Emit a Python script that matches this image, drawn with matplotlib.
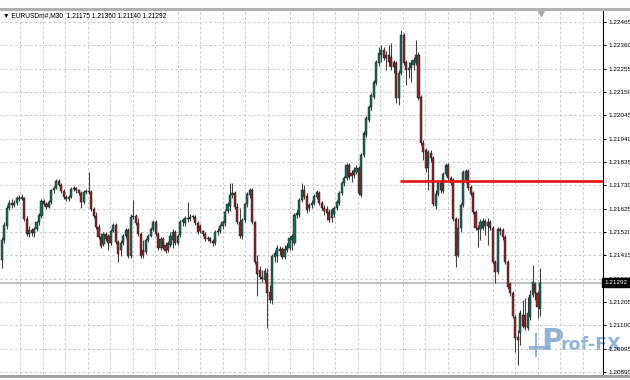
import numpy as np
import matplotlib
matplotlib.use("Agg")
import matplotlib.pyplot as plt
from matplotlib.lines import Line2D

# EURUSDm#, M30 candles (oldest -> newest)
opens = [
    1.21394, 1.21484, 1.21547, 1.21628, 1.21650, 1.21641, 1.21650, 1.21673, 1.21668, 1.21673,
    1.21578, 1.21511, 1.21529, 1.21515, 1.21533, 1.21565, 1.21592, 1.21659, 1.21646, 1.21632,
    1.21655, 1.21709, 1.21718, 1.21749, 1.21731, 1.21704, 1.21677, 1.21668, 1.21677, 1.21713,
    1.21718, 1.21709, 1.21695, 1.21655, 1.21700, 1.21704, 1.21700, 1.21623, 1.21592, 1.21542,
    1.21497, 1.21466, 1.21511, 1.21502, 1.21470, 1.21524, 1.21551, 1.21475, 1.21439, 1.21470,
    1.21502, 1.21529, 1.21412, 1.21587, 1.21592, 1.21560, 1.21511, 1.21439, 1.21430, 1.21484,
    1.21502, 1.21533, 1.21565, 1.21511, 1.21448, 1.21488, 1.21461, 1.21439, 1.21461, 1.21484,
    1.21520, 1.21470, 1.21506, 1.21565, 1.21560, 1.21583, 1.21578, 1.21587, 1.21587, 1.21560,
    1.21547, 1.21524, 1.21511, 1.21488, 1.21493, 1.21479, 1.21470, 1.21520, 1.21524, 1.21547,
    1.21560, 1.21614, 1.21637, 1.21686, 1.21695, 1.21632, 1.21565, 1.21502, 1.21574, 1.21646,
    1.21686, 1.21709, 1.21565, 1.21385, 1.21349, 1.21317, 1.21304, 1.21335, 1.21250, 1.21214,
    1.21407, 1.21412, 1.21443, 1.21443, 1.21407, 1.21439, 1.21448, 1.21484, 1.21470, 1.21596,
    1.21596, 1.21664, 1.21709, 1.21682, 1.21628, 1.21641, 1.21650, 1.21677, 1.21695, 1.21650,
    1.21628, 1.21623, 1.21610, 1.21583, 1.21601, 1.21628, 1.21650, 1.21695, 1.21740, 1.21763,
    1.21821, 1.21785, 1.21776, 1.21790, 1.21808, 1.21686, 1.21866, 1.21956, 1.22024, 1.22082,
    1.22128, 1.22191, 1.22281, 1.22317, 1.22339, 1.22303, 1.22317, 1.22308, 1.22285, 1.22281,
    1.22123, 1.22236, 1.22407, 1.22285, 1.22249, 1.22258, 1.22272, 1.22281, 1.22317, 1.22128,
    1.21920, 1.21889, 1.21808, 1.21875, 1.21853, 1.21637, 1.21691, 1.21740, 1.21704, 1.21781,
    1.21821, 1.21763, 1.21754, 1.21578, 1.21417, 1.21538, 1.21641, 1.21754, 1.21794, 1.21722,
    1.21695, 1.21610, 1.21538, 1.21533, 1.21538, 1.21569, 1.21547, 1.21565, 1.21538, 1.21385,
    1.21340, 1.21533, 1.21529, 1.21497, 1.21385, 1.21286, 1.21245, 1.21137, 1.21047, 1.21065,
    1.21146, 1.21146, 1.21088, 1.21137, 1.21236, 1.21286, 1.21245, 1.21175,
]
highs = [
    1.21497, 1.21565, 1.21641, 1.21664, 1.21668, 1.21664, 1.21682, 1.21686, 1.21691, 1.21677,
    1.21592, 1.21547, 1.21538, 1.21542, 1.21569, 1.21605, 1.21668, 1.21668, 1.21655, 1.21664,
    1.21713, 1.21727, 1.21758, 1.21758, 1.21740, 1.21713, 1.21686, 1.21686, 1.21722, 1.21727,
    1.21722, 1.21713, 1.21704, 1.21709, 1.21713, 1.21790, 1.21709, 1.21632, 1.21610, 1.21556,
    1.21515, 1.21520, 1.21520, 1.21511, 1.21533, 1.21560, 1.21560, 1.21484, 1.21484, 1.21511,
    1.21538, 1.21538, 1.21601, 1.21664, 1.21601, 1.21583, 1.21520, 1.21484, 1.21493, 1.21511,
    1.21542, 1.21574, 1.21574, 1.21520, 1.21497, 1.21497, 1.21475, 1.21479, 1.21520, 1.21533,
    1.21529, 1.21511, 1.21574, 1.21583, 1.21592, 1.21655, 1.21601, 1.21596, 1.21596, 1.21569,
    1.21556, 1.21529, 1.21520, 1.21502, 1.21497, 1.21488, 1.21529, 1.21538, 1.21556, 1.21574,
    1.21619, 1.21655, 1.21740, 1.21740, 1.21704, 1.21650, 1.21628, 1.21583, 1.21650, 1.21700,
    1.21718, 1.21718, 1.21569, 1.21417, 1.21367, 1.21349, 1.21358, 1.21358, 1.21281, 1.21421,
    1.21439, 1.21461, 1.21457, 1.21452, 1.21461, 1.21470, 1.21502, 1.21511, 1.21605, 1.21619,
    1.21673, 1.21740, 1.21731, 1.21695, 1.21650, 1.21664, 1.21691, 1.21709, 1.21704, 1.21659,
    1.21641, 1.21637, 1.21623, 1.21628, 1.21637, 1.21664, 1.21704, 1.21749, 1.21772, 1.21830,
    1.21830, 1.21799, 1.21812, 1.21821, 1.21817, 1.21875, 1.21974, 1.22042, 1.22092, 1.22146,
    1.22204, 1.22294, 1.22352, 1.22362, 1.22352, 1.22334, 1.22362, 1.22371, 1.22294, 1.22290,
    1.22249, 1.22429, 1.22416, 1.22294, 1.22285, 1.22294, 1.22308, 1.22384, 1.22330, 1.22137,
    1.21934, 1.21898, 1.21889, 1.21889, 1.21862, 1.21709, 1.21745, 1.21749, 1.21790, 1.21830,
    1.21830, 1.21772, 1.21763, 1.21587, 1.21583, 1.21650, 1.21799, 1.21803, 1.21803, 1.21731,
    1.21704, 1.21619, 1.21551, 1.21578, 1.21583, 1.21578, 1.21583, 1.21574, 1.21547, 1.21394,
    1.21542, 1.21542, 1.21538, 1.21506, 1.21394, 1.21295, 1.21254, 1.21146, 1.21079, 1.21169,
    1.21214, 1.21223, 1.21227, 1.21259, 1.21371, 1.21295, 1.21254, 1.21360,
]
lows = [
    1.21358, 1.21470, 1.21533, 1.21619, 1.21628, 1.21632, 1.21641, 1.21659, 1.21664, 1.21569,
    1.21502, 1.21497, 1.21502, 1.21497, 1.21524, 1.21551, 1.21583, 1.21637, 1.21623, 1.21628,
    1.21646, 1.21695, 1.21713, 1.21727, 1.21695, 1.21668, 1.21659, 1.21659, 1.21673, 1.21704,
    1.21695, 1.21686, 1.21628, 1.21646, 1.21691, 1.21691, 1.21614, 1.21583, 1.21533, 1.21488,
    1.21448, 1.21457, 1.21479, 1.21439, 1.21461, 1.21520, 1.21466, 1.21385, 1.21412, 1.21461,
    1.21493, 1.21403, 1.21403, 1.21578, 1.21551, 1.21502, 1.21403, 1.21403, 1.21421, 1.21475,
    1.21497, 1.21524, 1.21502, 1.21439, 1.21439, 1.21443, 1.21425, 1.21430, 1.21452, 1.21448,
    1.21461, 1.21461, 1.21497, 1.21547, 1.21547, 1.21565, 1.21569, 1.21578, 1.21551, 1.21511,
    1.21515, 1.21502, 1.21479, 1.21479, 1.21470, 1.21457, 1.21461, 1.21506, 1.21515, 1.21533,
    1.21547, 1.21605, 1.21614, 1.21673, 1.21623, 1.21556, 1.21493, 1.21488, 1.21565, 1.21632,
    1.21673, 1.21556, 1.21376, 1.21232, 1.21308, 1.21295, 1.21290, 1.21088, 1.21200, 1.21196,
    1.21385, 1.21385, 1.21417, 1.21398, 1.21398, 1.21430, 1.21439, 1.21439, 1.21461, 1.21583,
    1.21587, 1.21655, 1.21668, 1.21605, 1.21614, 1.21628, 1.21641, 1.21668, 1.21641, 1.21619,
    1.21596, 1.21574, 1.21565, 1.21565, 1.21587, 1.21619, 1.21641, 1.21686, 1.21727, 1.21754,
    1.21758, 1.21745, 1.21763, 1.21781, 1.21686, 1.21677, 1.21857, 1.21947, 1.22015, 1.22069,
    1.22119, 1.22182, 1.22267, 1.22285, 1.22294, 1.22249, 1.22267, 1.22249, 1.22236, 1.22100,
    1.22092, 1.22227, 1.22272, 1.22182, 1.22213, 1.22195, 1.22249, 1.22272, 1.22114, 1.21912,
    1.21844, 1.21790, 1.21709, 1.21835, 1.21637, 1.21623, 1.21682, 1.21695, 1.21695, 1.21772,
    1.21754, 1.21731, 1.21569, 1.21362, 1.21407, 1.21520, 1.21632, 1.21740, 1.21709, 1.21682,
    1.21601, 1.21529, 1.21452, 1.21484, 1.21529, 1.21506, 1.21461, 1.21529, 1.21376, 1.21290,
    1.21331, 1.21506, 1.21484, 1.21376, 1.21263, 1.21232, 1.21133, 1.20980, 1.20922, 1.21012,
    1.21088, 1.21079, 1.21079, 1.21124, 1.21227, 1.21214, 1.21133, 1.21140,
]
closes = [
    1.21484, 1.21551, 1.21628, 1.21650, 1.21641, 1.21650, 1.21673, 1.21668, 1.21677, 1.21578,
    1.21511, 1.21529, 1.21515, 1.21533, 1.21565, 1.21596, 1.21659, 1.21646, 1.21632, 1.21655,
    1.21709, 1.21718, 1.21749, 1.21731, 1.21704, 1.21677, 1.21668, 1.21677, 1.21713, 1.21718,
    1.21709, 1.21695, 1.21655, 1.21700, 1.21704, 1.21700, 1.21623, 1.21592, 1.21542, 1.21497,
    1.21457, 1.21511, 1.21488, 1.21470, 1.21524, 1.21551, 1.21475, 1.21421, 1.21470, 1.21502,
    1.21529, 1.21412, 1.21587, 1.21592, 1.21560, 1.21511, 1.21412, 1.21417, 1.21484, 1.21502,
    1.21533, 1.21565, 1.21511, 1.21448, 1.21488, 1.21448, 1.21434, 1.21470, 1.21502, 1.21520,
    1.21470, 1.21502, 1.21565, 1.21574, 1.21583, 1.21578, 1.21587, 1.21592, 1.21560, 1.21520,
    1.21524, 1.21511, 1.21488, 1.21493, 1.21479, 1.21470, 1.21520, 1.21524, 1.21547, 1.21565,
    1.21610, 1.21646, 1.21686, 1.21695, 1.21632, 1.21565, 1.21502, 1.21574, 1.21646, 1.21691,
    1.21709, 1.21565, 1.21385, 1.21331, 1.21317, 1.21308, 1.21344, 1.21245, 1.21214, 1.21412,
    1.21425, 1.21448, 1.21434, 1.21407, 1.21443, 1.21457, 1.21493, 1.21502, 1.21596, 1.21605,
    1.21664, 1.21709, 1.21677, 1.21619, 1.21641, 1.21650, 1.21682, 1.21700, 1.21650, 1.21628,
    1.21614, 1.21605, 1.21574, 1.21619, 1.21628, 1.21655, 1.21695, 1.21740, 1.21763, 1.21821,
    1.21767, 1.21772, 1.21799, 1.21808, 1.21695, 1.21866, 1.21965, 1.22033, 1.22082, 1.22137,
    1.22195, 1.22285, 1.22326, 1.22339, 1.22303, 1.22317, 1.22285, 1.22262, 1.22262, 1.22123,
    1.22236, 1.22407, 1.22281, 1.22249, 1.22258, 1.22281, 1.22294, 1.22317, 1.22123, 1.21920,
    1.21880, 1.21808, 1.21880, 1.21853, 1.21646, 1.21691, 1.21740, 1.21709, 1.21781, 1.21821,
    1.21763, 1.21740, 1.21578, 1.21412, 1.21538, 1.21641, 1.21790, 1.21794, 1.21718, 1.21691,
    1.21610, 1.21538, 1.21529, 1.21565, 1.21569, 1.21547, 1.21565, 1.21538, 1.21385, 1.21340,
    1.21533, 1.21524, 1.21497, 1.21385, 1.21272, 1.21245, 1.21142, 1.21043, 1.21034, 1.21155,
    1.21097, 1.21092, 1.21155, 1.21236, 1.21295, 1.21245, 1.21182, 1.21292,
]

price_ticks = [1.22465, 1.22360, 1.22255, 1.22150, 1.22045, 1.21940, 1.21835, 1.21730,
               1.21625, 1.21520, 1.21415, 1.21310, 1.21205, 1.21100, 1.20995, 1.20890]
bid_price = 1.21292
level_price = 1.21748
level_start = 160.6
title = "\u25BC EURUSDm#,M30  1.21175 1.21360 1.21140 1.21292"

up_col = "#1d6e5d"
down_col = "#8e2a2a"
grid_col = "#c9c9c9"
small_font = ["Liberation Sans", "DejaVu Sans"]

o = np.array(opens)
h = np.array(highs)
l = np.array(lows)
c = np.array(closes)
x = np.arange(len(c))

W, H = 630, 380
fig = plt.figure(figsize=(6.3, 3.8), dpi=100, facecolor="white")
ax = fig.add_axes([0, 1 - 374 / H, 603 / W, (374 - 11) / H])
ax.patch.set_visible(False)
ax.set_xlim(-0.73, 242.4)
ax.set_ylim(1.20881, 1.22515)

# grid (dashed, light gray)
for p in price_ticks:
    ax.axhline(p, color=grid_col, lw=0.7, ls=(0, (2.5, 2.5)), zorder=0)
for gx in np.arange(7.34, 242.4, 9.08):
    ax.axvline(gx, color=grid_col, lw=0.7, ls=(0, (2.5, 2.5)), zorder=0)

# bid line
ax.axhline(bid_price, color="#c4c4c4", lw=1.6, zorder=1)

# candles
up = c >= o
ax.vlines(x, l, h, color="#444444", lw=0.8, zorder=2)
ax.bar(x[up], c[up] - o[up], bottom=o[up], width=0.85, color=up_col,
       edgecolor="#111111", linewidth=0.3, zorder=3)
ax.bar(x[~up], c[~up] - o[~up], bottom=o[~up], width=0.85, color=down_col,
       edgecolor="#111111", linewidth=0.3, zorder=3)

# red horizontal level
ax.hlines(level_price, level_start, 242.4, color="#e01212", lw=1.9, zorder=4)

# chart shift marker
ax.plot([217.5], [1.22505], marker="v", ms=4, color="#a8a8a8", clip_on=False, zorder=5)

# right price scale
ax.yaxis.tick_right()
ax.set_yticks(price_ticks)
ax.set_yticklabels([f"{p:.5f}" for p in price_ticks], family=small_font)
ax.tick_params(axis="y", direction="out", length=2.5, width=0.7, labelsize=4.6,
               pad=1.2, colors="#000000")
ax.set_xticks([])
for s in ["left", "top", "bottom"]:
    ax.spines[s].set_visible(False)
ax.spines["right"].set_color("#000000")
ax.spines["right"].set_linewidth(0.8)

ax.text(1.002, bid_price, f"{bid_price:.5f}", transform=ax.get_yaxis_transform(),
        fontsize=4.6, family=small_font, color="white", va="center", ha="left",
        clip_on=False, zorder=6,
        bbox=dict(boxstyle="square,pad=0.35", facecolor="black", edgecolor="black"))

# window frame lines
fig.add_artist(Line2D([0, 1], [1 - 8.5 / H, 1 - 8.5 / H], transform=fig.transFigure,
                      color="#b0b0b0", lw=2.2))
fig.add_artist(Line2D([0, 1], [1 - 376 / H, 1 - 376 / H], transform=fig.transFigure,
                      color="#a0a0a0", lw=2.2))

fig.text(3 / W, 1 - 15.5 / H, title, fontsize=4.8, family=small_font, va="center",
         ha="left", color="#000000")

# Prof-FX watermark (behind the axes contents)
wm = "#7ea7cf"
fig.add_artist(Line2D([531 / W, 548 / W], [1 - 348 / H, 1 - 348 / H], transform=fig.transFigure,
                      color=wm, lw=3, alpha=0.8, zorder=-1))
fig.add_artist(Line2D([535.5 / W, 535.5 / W], [1 - 334 / H, 1 - 356 / H], transform=fig.transFigure,
                      color=wm, lw=1.5, alpha=0.8, zorder=-1))
fig.text(541 / W, 1 - 350 / H, "P", fontsize=22, fontweight="bold", color=wm, alpha=0.85,
         va="baseline", ha="left", zorder=-1)
fig.text(561 / W, 1 - 350 / H, "rof-FX", fontsize=12.5, fontweight="bold", color=wm,
         alpha=0.85, va="baseline", ha="left", zorder=-1)

fig.savefig("out.png", dpi=100, facecolor="white")
